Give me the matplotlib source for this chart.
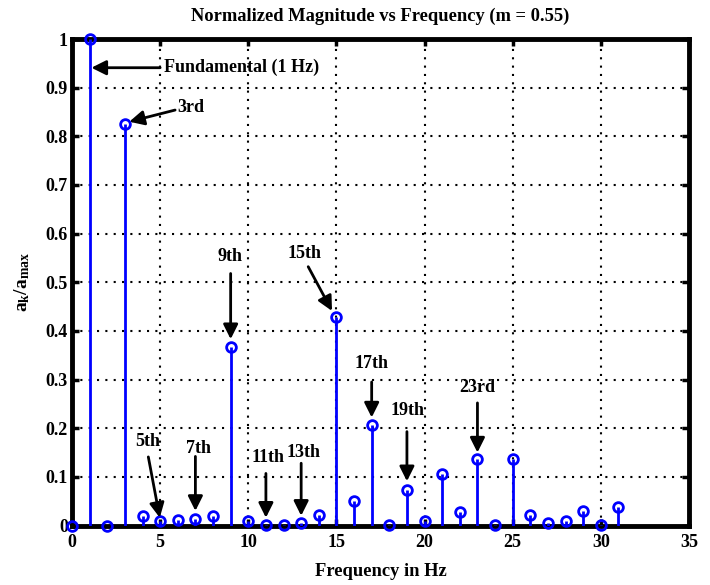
import numpy as np
import matplotlib.pyplot as plt

plt.rcParams['font.family'] = 'Liberation Serif'
plt.rcParams['font.weight'] = 'bold'
plt.rcParams['mathtext.fontset'] = 'custom'
plt.rcParams['mathtext.rm'] = 'Liberation Serif:bold'
plt.rcParams['mathtext.it'] = 'Liberation Serif:bold'
plt.rcParams['mathtext.bf'] = 'Liberation Serif:bold'

# Harmonic index (Hz) and normalized magnitude a_k/a_max
freq = np.arange(0, 32)
mag = [0.0, 1.0, 0.0, 0.826, 0.019, 0.010, 0.012, 0.013, 0.020, 0.366,
       0.010, 0.002, 0.001, 0.005, 0.022, 0.429, 0.050, 0.207, 0.001, 0.072,
       0.010, 0.105, 0.027, 0.137, 0.001, 0.137, 0.022, 0.005, 0.010, 0.029,
       0.001, 0.038]

# annotations: label, text position, arrow tail, arrow head
ann_labels = ['Fundamental (1 Hz)', '3rd', '5th', '7th', '9th', '11th', '13th',
              '15th', '17th', '19th', '23rd']
ann_text = [(5.2, 0.941), (6.0, 0.86), (4.27, 0.172), (7.17, 0.158), (8.98, 0.552),
            (11.13, 0.14), (13.12, 0.15), (13.2, 0.56), (17.0, 0.333), (19.02, 0.237),
            (23.01, 0.283)]
ann_tail = [(5.0, 0.941), (5.85, 0.854), (4.33, 0.141), (7.0, 0.142), (9.0, 0.518),
            (11.0, 0.107), (13.0, 0.128), (13.4, 0.532), (17.0, 0.295), (19.0, 0.193),
            (23.0, 0.252)]
ann_head = [(1.1, 0.941), (3.25, 0.83), (4.98, 0.016), (7.0, 0.03), (9.0, 0.383),
            (11.0, 0.016), (13.0, 0.02), (14.75, 0.441), (17.0, 0.222), (19.0, 0.091),
            (23.0, 0.15)]
left_aligned = ['Fundamental (1 Hz)', '3rd']

fig = plt.figure(figsize=(7.1, 5.85), dpi=100)
ax = fig.add_axes([0.1014, 0.1017, 0.869, 0.8316])

ax.vlines(freq, 0, mag, color='blue', lw=2, zorder=3)
ax.plot(freq, mag, 'o', mfc='none', mec='blue', mew=2, ms=7, clip_on=False, zorder=4)

for lab, t, a, h in zip(ann_labels, ann_text, ann_tail, ann_head):
    ax.annotate('', xy=h, xytext=a,
                arrowprops=dict(arrowstyle='-|>', color='black', lw=2,
                                mutation_scale=22, shrinkA=0, shrinkB=0), zorder=5)
    ha = 'left' if lab in left_aligned else 'center'
    ax.text(t[0], t[1], lab, ha=ha, va='center', fontsize=13, fontweight='bold', zorder=6)

ax.set_xlim(0, 35)
ax.set_ylim(0, 1)
ax.set_xticks(np.arange(0, 36, 5))
ax.set_yticks(np.arange(0, 1.01, 0.1))
ax.set_yticklabels(['0', '0.1', '0.2', '0.3', '0.4', '0.5', '0.6', '0.7', '0.8', '0.9', '1'])
ax.grid(True, color='black', linestyle=(0, (1, 3)), lw=1.5)
ax.tick_params(direction='in', top=True, right=True, length=5, width=2.5,
               labelsize=13)
ax.tick_params(axis='x', pad=6)
ax.tick_params(axis='y', pad=3)
for s in ax.spines.values():
    s.set_linewidth(3.5)

ax.set_title('Normalized Magnitude vs Frequency (m = 0.55)', fontsize=13.3, fontweight='bold', pad=13)
ax.set_xlabel('Frequency in Hz', fontsize=13.3, fontweight='bold', labelpad=9)
ax.set_ylabel(r'$\mathbf{a_k/a_{max}}$', fontsize=14, labelpad=10)

fig.savefig('out.png', dpi=100)
